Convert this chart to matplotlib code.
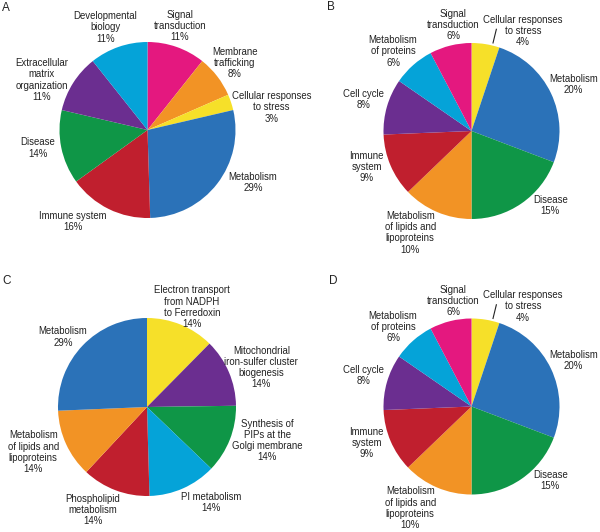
#!/usr/bin/env python3
import numpy as np
import matplotlib
matplotlib.use("Agg")
import matplotlib.pyplot as plt

plt.rcParams['font.family'] = ['Liberation Sans', 'DejaVu Sans']

# --- colours ---
BLUE = '#2B72B8'
GREEN = '#0F9647'
RED = '#C01F2E'
ORANGE = '#F29325'
YELLOW = '#F6E029'
PURPLE = '#6B2E90'
CYAN = '#05A3D8'
MAGENTA = '#E4187F'

# --- data (clockwise from 12 o'clock) ---
a_labels = ['Signal\ntransduction', 'Membrane\ntrafficking', 'Cellular responses\nto stress',
            'Metabolism', 'Immune system', 'Disease',
            'Extracellular\nmatrix\norganization', 'Developmental\nbiology']
a_values = [11, 8, 3, 29, 16, 14, 11, 11]
a_colors = [MAGENTA, ORANGE, YELLOW, BLUE, RED, GREEN, PURPLE, CYAN]

b_labels = ['Cellular responses\nto stress', 'Metabolism', 'Disease',
            'Metabolism\nof lipids and\nlipoproteins', 'Immune\nsystem', 'Cell cycle',
            'Metabolism\nof proteins', 'Signal\ntransduction']
b_values = [4, 20, 15, 10, 9, 8, 6, 6]
b_colors = [YELLOW, BLUE, GREEN, ORANGE, RED, PURPLE, CYAN, MAGENTA]

c_labels = ['Electron transport\nfrom NADPH\nto Ferredoxin', 'Mitochondrial\niron-sulfer cluster\nbiogenesis',
            'Synthesis of\nPIPs at the\nGolgi membrane', 'PI metabolism',
            'Phospholipid\nmetabolism', 'Metabolism\nof lipids and\nlipoproteins', 'Metabolism']
c_values = [14, 14, 14, 14, 14, 14, 29]
c_colors = [YELLOW, PURPLE, GREEN, CYAN, RED, ORANGE, BLUE]

d_labels = list(b_labels)
d_values = list(b_values)
d_colors = list(b_colors)

# --- label layout: radial distance (x radius) and angle nudge (deg) ---
a_dist = [1.24, 1.25, 1.43, 1.34, 1.34, 1.26, 1.33, 1.26]
a_nudge = [2, 0, -8, 11, -13, -2, 7, 3]
b_dist = [1.28, 1.27, 1.23, 1.35, 1.26, 1.28, 1.27, 1.22]
b_nudge = [-18, -1, 12, -8, -4, 0, 3, -4]
c_dist = [1.23, 1.36, 1.40, 1.29, 1.31, 1.375, 1.23]
c_nudge = [-2, -4, 6, 10, -7, -3, 4]

W, H = 600, 532


def draw_pie(ax, values, labels, colors, center, radius, dist, nudge, letter, letter_xy, leader=None):
    cx, cy = center[0], H - center[1]
    wedges, _ = ax.pie(values, colors=colors, startangle=90, counterclock=False,
                       center=(cx, cy), radius=radius,
                       wedgeprops=dict(linewidth=0))
    total = float(sum(values))
    cum = 0.0
    for i, v in enumerate(values):
        mid = (cum + v / 2.0) / total
        cum += v
        ang = np.deg2rad(90 - mid * 360 + nudge[i])
        x = cx + dist[i] * radius * np.cos(ang)
        y = cy + dist[i] * radius * np.sin(ang)
        ax.text(x, y, f"{labels[i]}\n{v}%", ha='center', va='center',
                fontsize=6.9, linespacing=1.15, color='#222222')
        if leader is not None and leader[0] == i:
            la = np.deg2rad(90 - mid * 360 + leader[1])
            ax.plot([cx + 1.03 * radius * np.cos(la), cx + 1.19 * radius * np.cos(la)],
                    [cy + 1.03 * radius * np.sin(la), cy + 1.19 * radius * np.sin(la)],
                    color='#222222', lw=0.8)
    ax.text(letter_xy[0], H - letter_xy[1], letter, fontsize=8.5, ha='left', va='center',
            color='#222222')


fig = plt.figure(figsize=(6.0, 5.32), dpi=100)
ax = fig.add_axes([0, 0, 1, 1])

draw_pie(ax, a_values, a_labels, a_colors, (147.5, 130), 88, a_dist, a_nudge, 'A', (2, 8))
draw_pie(ax, b_values, b_labels, b_colors, (471.5, 131), 88, b_dist, b_nudge, 'B', (327, 7),
         leader=(0, -4.5))
draw_pie(ax, c_values, c_labels, c_colors, (147, 407), 89, c_dist, c_nudge, 'C', (2, 281))
draw_pie(ax, d_values, d_labels, d_colors, (471.5, 406.5), 88, b_dist, b_nudge, 'D', (329, 281),
         leader=(0, -4.5))

ax.set_aspect('equal')
ax.set_xlim(0, W)
ax.set_ylim(0, H)
ax.axis('off')

fig.savefig('out.png', dpi=100)
